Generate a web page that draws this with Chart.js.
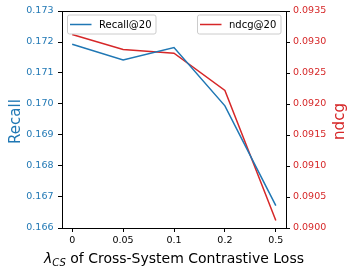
<!DOCTYPE html>
<html>
<head>
<meta charset="utf-8">
<script src="https://cdn.jsdelivr.net/npm/chart.js@4"></script>
<style>
  body { margin: 0; background: #fff; }
  canvas { display: block; }
</style>
</head>
<body>
<canvas id="lossChart" width="353" height="274"></canvas>
<script>
// data
const lambdas = ["0", "0.05", "0.1", "0.2", "0.5"];
const recall = [0.17193, 0.17142, 0.17182, 0.16994, 0.16672];
const ndcg = [0.09312, 0.09288, 0.09282, 0.09222, 0.09012];
const recallTicks = [0.166, 0.167, 0.168, 0.169, 0.170, 0.171, 0.172, 0.173];
const ndcgTicks = [0.0900, 0.0905, 0.0910, 0.0915, 0.0920, 0.0925, 0.0930, 0.0935];

const BLUE = '#1f77b4';
const RED = '#d62728';
const FONT = "'DejaVu Sans', sans-serif";

// frame top line, axis titles and the two legend boxes
const extras = {
  id: 'extras',
  afterDraw(chart) {
    const ctx = chart.ctx;
    const a = chart.chartArea;
    ctx.save();

    // top spine
    ctx.strokeStyle = '#000';
    ctx.lineWidth = 1;
    ctx.beginPath();
    ctx.moveTo(a.left, Math.round(a.top) + 0.5);
    ctx.lineTo(a.right, Math.round(a.top) + 0.5);
    ctx.stroke();

    const midY = (a.top + a.bottom) / 2 + 2;

    // left title
    ctx.save();
    ctx.translate(20, midY);
    ctx.rotate(-Math.PI / 2);
    ctx.font = '15px ' + FONT;
    ctx.fillStyle = BLUE;
    ctx.textAlign = 'center';
    ctx.textBaseline = 'alphabetic';
    ctx.fillText('Recall', 0, 0);
    ctx.restore();

    // right title
    ctx.save();
    ctx.translate(344, midY);
    ctx.rotate(-Math.PI / 2);
    ctx.font = '15px ' + FONT;
    ctx.fillStyle = RED;
    ctx.textAlign = 'center';
    ctx.textBaseline = 'alphabetic';
    ctx.fillText('ndcg', 0, 0);
    ctx.restore();

    // x title with subscript
    const big = 'italic 14px ' + FONT;
    const sub = 'italic 10px ' + FONT;
    const rest = '14px ' + FONT;
    const restText = ' of Cross-System Contrastive Loss';
    ctx.font = big; const w1 = ctx.measureText('λ').width;
    ctx.font = sub; const w2 = ctx.measureText('CS').width;
    ctx.font = rest; const w3 = ctx.measureText(restText).width;
    let x = (a.left + a.right) / 2 - (w1 + w2 + w3) / 2;
    const base = 263;
    ctx.fillStyle = '#000';
    ctx.textAlign = 'left';
    ctx.textBaseline = 'alphabetic';
    ctx.font = big; ctx.fillText('λ', x, base); x += w1;
    ctx.font = sub; ctx.fillText('CS', x, base + 3); x += w2;
    ctx.font = rest; ctx.fillText(restText, x, base);

    // legends
    legendBox(ctx, 67.5, 15, 88.5, 19, BLUE, chart.data.datasets[0].label);
    legendBox(ctx, 197.5, 15, 83.5, 19, RED, chart.data.datasets[1].label);

    ctx.restore();
  }
};

function legendBox(ctx, x, y, w, h, color, text) {
  ctx.beginPath();
  ctx.roundRect(x, y, w, h, 2);
  ctx.fillStyle = 'rgba(255,255,255,0.8)';
  ctx.fill();
  ctx.strokeStyle = '#cccccc';
  ctx.lineWidth = 1;
  ctx.stroke();
  ctx.beginPath();
  ctx.moveTo(x + 2.5, y + h / 2);
  ctx.lineTo(x + 24, y + h / 2);
  ctx.strokeStyle = color;
  ctx.lineWidth = 1.5;
  ctx.stroke();
  ctx.fillStyle = '#000';
  ctx.font = '10px ' + FONT;
  ctx.textAlign = 'left';
  ctx.textBaseline = 'middle';
  ctx.fillText(text, x + 31.5, y + h / 2 + 0.5);
}

const tickGrid = {
  display: true,
  drawOnChartArea: false,
  drawTicks: true,
  tickLength: 4,
  tickColor: '#000',
  tickWidth: 1
};

const ctx = document.getElementById('lossChart').getContext('2d');
const lossChart = new Chart(ctx, {
  type: 'line',
  data: {
    datasets: [{
      label: 'Recall@20',
      data: recall.map((v, i) => ({ x: i, y: v })),
      borderColor: BLUE,
      borderWidth: 1.5,
      pointRadius: 0,
      yAxisID: 'y'
    }, {
      label: 'ndcg@20',
      data: ndcg.map((v, i) => ({ x: i, y: v })),
      borderColor: RED,
      borderWidth: 1.5,
      pointRadius: 0,
      yAxisID: 'y1'
    }]
  },
  options: {
    responsive: false,
    animation: false,
    devicePixelRatio: 1,
    layout: { padding: { top: 11, left: 0, right: 0, bottom: 0 } },
    plugins: {
      legend: { display: false },
      tooltip: { enabled: false }
    },
    scales: {
      x: {
        type: 'linear',
        min: -0.2,
        max: 4.2,
        afterBuildTicks: s => { s.ticks = lambdas.map((l, i) => ({ value: i })); },
        afterFit: s => { s.height = 46; },
        ticks: {
          color: '#000',
          font: { family: FONT, size: 9.5 },
          padding: 3,
          maxRotation: 0,
          callback: v => lambdas[v]
        },
        grid: tickGrid,
        border: { display: true, color: '#000', width: 1 }
      },
      y: {
        position: 'left',
        min: 0.166,
        max: 0.173,
        afterBuildTicks: s => { s.ticks = recallTicks.map(v => ({ value: v })); },
        afterFit: s => { s.width = 62; },
        ticks: {
          color: BLUE,
          font: { family: FONT, size: 9.5 },
          padding: 4.5,
          callback: v => v.toFixed(3)
        },
        grid: tickGrid,
        border: { display: true, color: '#000', width: 1 }
      },
      y1: {
        position: 'right',
        min: 0.0900,
        max: 0.0935,
        afterBuildTicks: s => { s.ticks = ndcgTicks.map(v => ({ value: v })); },
        afterFit: s => { s.width = 67; },
        ticks: {
          color: RED,
          font: { family: FONT, size: 9.5 },
          padding: 3,
          callback: v => v.toFixed(4)
        },
        grid: tickGrid,
        border: { display: true, color: '#000', width: 1 }
      }
    }
  },
  plugins: [extras]
});
</script>
</body>
</html>
